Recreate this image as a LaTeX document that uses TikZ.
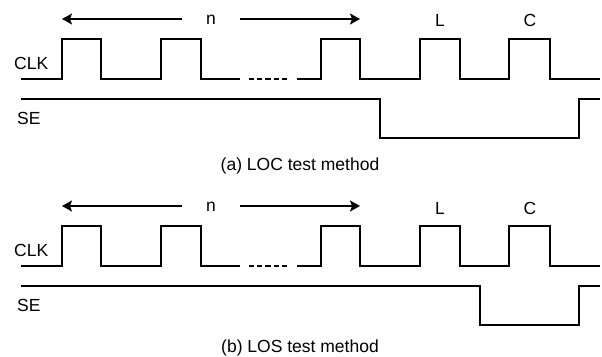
\documentclass[tikz,border=0pt]{standalone}
\usepackage{fontspec}
\setmainfont{Liberation Sans}
\usetikzlibrary{arrows.meta}
\tikzset{
  wave/.style={line width=1.2pt, line join=miter},
  dotseg/.style={line width=2.6pt, dash pattern=on 5.2pt off 3pt},
  span/.style={line width=1.2pt, -{Stealth[length=10pt,width=11pt,inset=2pt]}},
  lbl/.style={inner sep=0pt, anchor=base, font=\fontsize{17.5}{20}\selectfont},
  lblw/.style={lbl, anchor=base west}
}
\newcommand{\mytiming}[5]{%
  % #1 prefix, #2 y offset, #3 SE drop x, #4 caption, #5 caption baseline
  \begin{scope}[yshift=-#2pt]
    \node[lblw] (#1clk) at (14,69) {CLK};
    \node[lblw] (#1se) at (17,124) {SE};
    \node[lbl] (#1n) at (211,24) {n};
    \node[lbl] (#1L) at (440,27) {L};
    \node[lbl] (#1C) at (530,27) {C};
    \node[lbl] (#1cap) at (300,#5) {#4};
    \coordinate (#1al0) at (182,19);
    \coordinate (#1al1) at (62,19);
    \coordinate (#1ar0) at (240,19);
    \coordinate (#1ar1) at (360,19);
    \draw[span] (#1al0) -- (#1al1);
    \draw[span] (#1ar0) -- (#1ar1);
    \draw[wave] (21,79) -- (62,79) -- (62,39) -- (101,39) -- (101,79)
      -- (161,79) -- (161,39) -- (201,39) -- (201,79) -- (240,79);
    \draw[dotseg] (249,79) -- (287,79);
    \draw[wave] (297,79) -- (321,79) -- (321,39) -- (360,39) -- (360,79)
      -- (420,79) -- (420,39) -- (460,39) -- (460,79)
      -- (509,79) -- (509,39) -- (550,39) -- (550,79) -- (600,79);
    \draw[wave] (21,99) -- (#3,99) -- (#3,138) -- (579,138) -- (579,99) -- (600,99);
  \end{scope}
}
\begin{document}
\begin{tikzpicture}[x=1pt,y=-1pt]
  \useasboundingbox (0,0) rectangle (602,356);
  \mytiming{a}{0}{380}{(a) LOC test method}{170}
  \mytiming{b}{187}{480}{(b) LOS test method}{165}
\end{tikzpicture}
\end{document}
